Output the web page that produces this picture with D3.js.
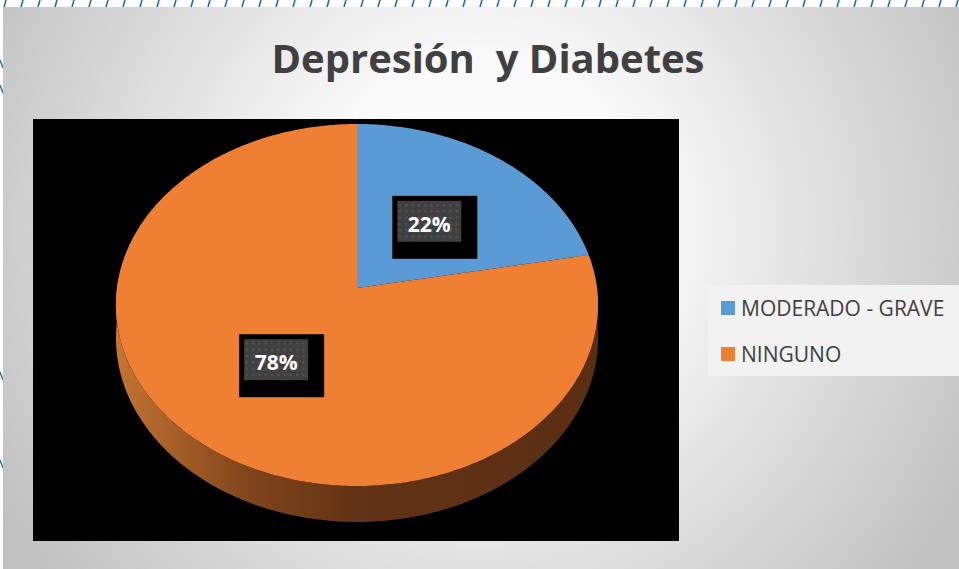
<!DOCTYPE html>
<html><head><meta charset="utf-8">
<script src="https://cdn.jsdelivr.net/npm/d3@7"></script>
<style>html,body{margin:0;padding:0;background:#fff;overflow:hidden}</style>
</head><body>
<svg id="c" width="959" height="569"></svg>
<script>
const title = "Depresión  y Diabetes";
const categories = ["MODERADO - GRAVE", "NINGUNO"];
const values = [22, 78];
const labels = ["22%", "78%"];
const colors = ["#5b9bd5", "#ef7f32"];

const svg = d3.select("#c");
const defs = svg.append("defs");

// background gradient
const bg = defs.append("radialGradient").attr("id","bg").attr("gradientUnits","userSpaceOnUse")
  .attr("cx",480).attr("cy",230).attr("r",560);
bg.append("stop").attr("offset","0").attr("stop-color","#ffffff");
bg.append("stop").attr("offset","0.3").attr("stop-color","#fafafa");
bg.append("stop").attr("offset","1").attr("stop-color","#c0c0c0");

const side = defs.append("linearGradient").attr("id","side").attr("gradientUnits","userSpaceOnUse")
  .attr("x1",115).attr("x2",600).attr("y1",0).attr("y2",0);
[[0,"#c57432"],[0.28,"#7f441c"],[0.5,"#623316"],[1,"#5a2e13"]].forEach(s=>
  side.append("stop").attr("offset",s[0]).attr("stop-color",s[1]));

const pat = defs.append("pattern").attr("id","dots").attr("patternUnits","userSpaceOnUse")
  .attr("width",6.3).attr("height",6.3);
pat.append("rect").attr("width",6.3).attr("height",6.3).attr("fill","#404040");
pat.append("rect").attr("x",2).attr("y",2).attr("width",2).attr("height",2).attr("fill","#575757");

// white strip + decorative blue marks
svg.append("rect").attr("width",959).attr("height",569).attr("fill","#fff");
const marks = d3.range(0, 960, 17);
svg.append("g").selectAll("path").data(marks).join("path")
  .attr("d", d => `M${d+4},7 L${d+6},0`)
  .attr("stroke","#1f6fb0").attr("stroke-width",1.6).attr("fill","none");
svg.append("g").selectAll("path").data([60,85,372,460]).join("path")
  .attr("d", d => `M0,${d} L3,${d+8}`)
  .attr("stroke","#1f6fb0").attr("stroke-width",1.4);

svg.append("rect").attr("x",3).attr("y",7).attr("width",956).attr("height",562).attr("fill","url(#bg)");

// title
svg.append("text").attr("x",488).attr("y",73).attr("text-anchor","middle")
  .attr("font-family","Open Sans").attr("font-weight","bold").attr("font-size",40)
  .attr("fill","#404040").attr("textLength",433).attr("lengthAdjust","spacingAndGlyphs")
  .style("white-space","pre").text(title);

// plot area
svg.append("rect").attr("x",33).attr("y",119).attr("width",646).attr("height",422).attr("fill","#000");

// 3D pie projection
const cx = 357, cy = 288, R = 240, A = 179.4, k = 0.0939, D = 32.6;
function proj(theta, r, z) {
  const u = r*Math.sin(theta), v = r*Math.cos(theta);
  const s = 1/(1+k*v);
  return [cx + R*u*s, cy - A*v*s + D*z*s];
}
const pie = d3.pie().sort(null).startAngle(0).endAngle(2*Math.PI);
const arcs = pie(values);
const line = d3.line();

// side wall
const sideT = d3.range(55, 305.5, 0.5).map(d => d*Math.PI/180);
const sidePts = sideT.map(t => proj(t,1,0)).concat(sideT.slice().reverse().map(t => proj(t,1,1)));
svg.append("path").attr("d", line(sidePts)+"Z").attr("fill","url(#side)");

// top faces
svg.append("g").selectAll("path").data(arcs).join("path")
  .attr("d", a => {
    const n = Math.max(2, Math.ceil((a.endAngle-a.startAngle)/0.01));
    const pts = [proj(0,0,0)];
    for (let i=0;i<=n;i++) pts.push(proj(a.startAngle + (a.endAngle-a.startAngle)*i/n,1,0));
    return line(pts)+"Z";
  })
  .attr("fill", (a,i) => colors[i]);

// data labels
const lg = svg.append("g").selectAll("g").data(arcs).join("g")
  .attr("transform", a => {
    const p = proj((a.startAngle+a.endAngle)/2, 0.5, 0);
    return `translate(${p[0]+4},${p[1]+6})`;
  });
lg.append("rect").attr("x",-42.5).attr("y",-31.5).attr("width",85).attr("height",63).attr("fill","#000");
lg.append("rect").attr("x",-37.5).attr("y",-26.5).attr("width",64).attr("height",41).attr("fill","url(#dots)");
lg.append("text").attr("x",-5.5).attr("y",4.5).attr("text-anchor","middle")
  .attr("font-family","Open Sans").attr("font-weight","bold").attr("font-size",21)
  .attr("fill","#fff").text((a,i)=>labels[i]);

// legend
svg.append("rect").attr("x",708).attr("y",285).attr("width",251).attr("height",91).attr("fill","#f2f2f2");
const leg = svg.append("g").selectAll("g").data(categories).join("g")
  .attr("transform",(d,i)=>`translate(721,${301+i*46})`);
leg.append("rect").attr("width",14).attr("height",14).attr("fill",(d,i)=>colors[i]);
leg.append("text").attr("x",20).attr("y",14.5)
  .attr("font-family","Open Sans").attr("font-size",21).attr("fill","#404040")
  .text(d=>d);
</script>
</body></html>
